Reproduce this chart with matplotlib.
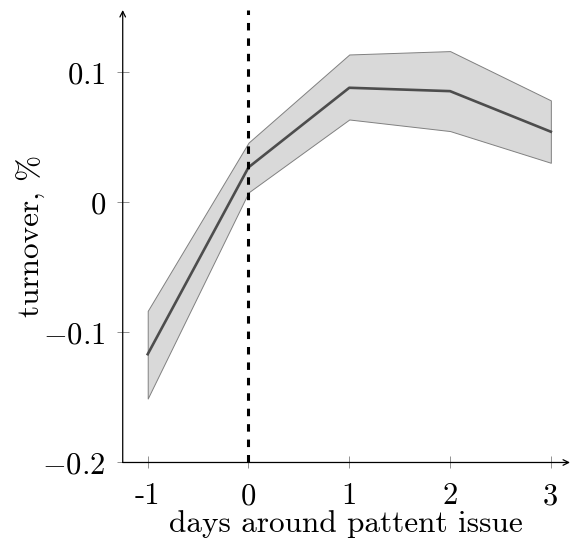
import numpy as np
import matplotlib
matplotlib.use('Agg')
import matplotlib.pyplot as plt

plt.rcParams['font.family'] = 'cmr10'
plt.rcParams['mathtext.fontset'] = 'cm'
plt.rcParams['axes.unicode_minus'] = False

# %% Data
days = [-1, 0, 1, 2, 3]
turnover_mean = [-0.1167, 0.0270, 0.0882, 0.0856, 0.0544]
turnover_upper = [-0.0834, 0.0460, 0.1138, 0.1164, 0.0785]
turnover_lower = [-0.1508, 0.0077, 0.0638, 0.0549, 0.0305]

xtick_vals = [-1, 0, 1, 2, 3]
xtick_labels = ['-1', '0', '1', '2', '3']
ytick_vals = [-0.2, -0.1, 0, 0.1]
ytick_labels = ['$-0.2$', '$-0.1$', '$0$', '$0.1$']

# %% Plot
fig = plt.figure(figsize=(5.7, 5.47), dpi=100)
ax = fig.add_axes([0.2153, 0.1545, 0.7847, 0.8272])

ax.fill_between(days, turnover_lower, turnover_upper, facecolor='#d9d9d9',
                edgecolor='#808080', linewidth=0.7, zorder=1)
ax.plot(days, turnover_mean, color='#4d4d4d', linewidth=1.9, zorder=2)
ax.axvline(0, color='black', linewidth=2.2, linestyle=(0, (2.45, 2.6)), zorder=3)

ax.set_xlim(-1.248, 3.19)
ax.set_ylim(-0.2, 0.148)

for side in ['top', 'right', 'left', 'bottom']:
    ax.spines[side].set_visible(False)

# axis lines with arrow heads
ax.annotate('', xy=(1, 0), xytext=(0, 0), xycoords='axes fraction',
            arrowprops=dict(arrowstyle='->', color='black', lw=0.9,
                            shrinkA=0, shrinkB=0), annotation_clip=False)
ax.annotate('', xy=(0, 1), xytext=(0, 0), xycoords='axes fraction',
            arrowprops=dict(arrowstyle='->', color='black', lw=0.9,
                            shrinkA=0, shrinkB=0), annotation_clip=False)

ax.set_xticks(xtick_vals)
ax.set_xticklabels(xtick_labels)
ax.set_yticks(ytick_vals)
ax.set_yticklabels(ytick_labels)
ax.tick_params(direction='inout', length=8.5, width=0.6, color='#808080',
               labelsize=22)
ax.tick_params(axis='x', pad=10.5)
ax.tick_params(axis='y', pad=8)

ax.set_xlabel('days around pattent issue', fontsize=22.5, labelpad=0)
ax.set_ylabel('turnover, %', fontsize=22.5, labelpad=-2.5)

fig.savefig('out.png', dpi=100)
